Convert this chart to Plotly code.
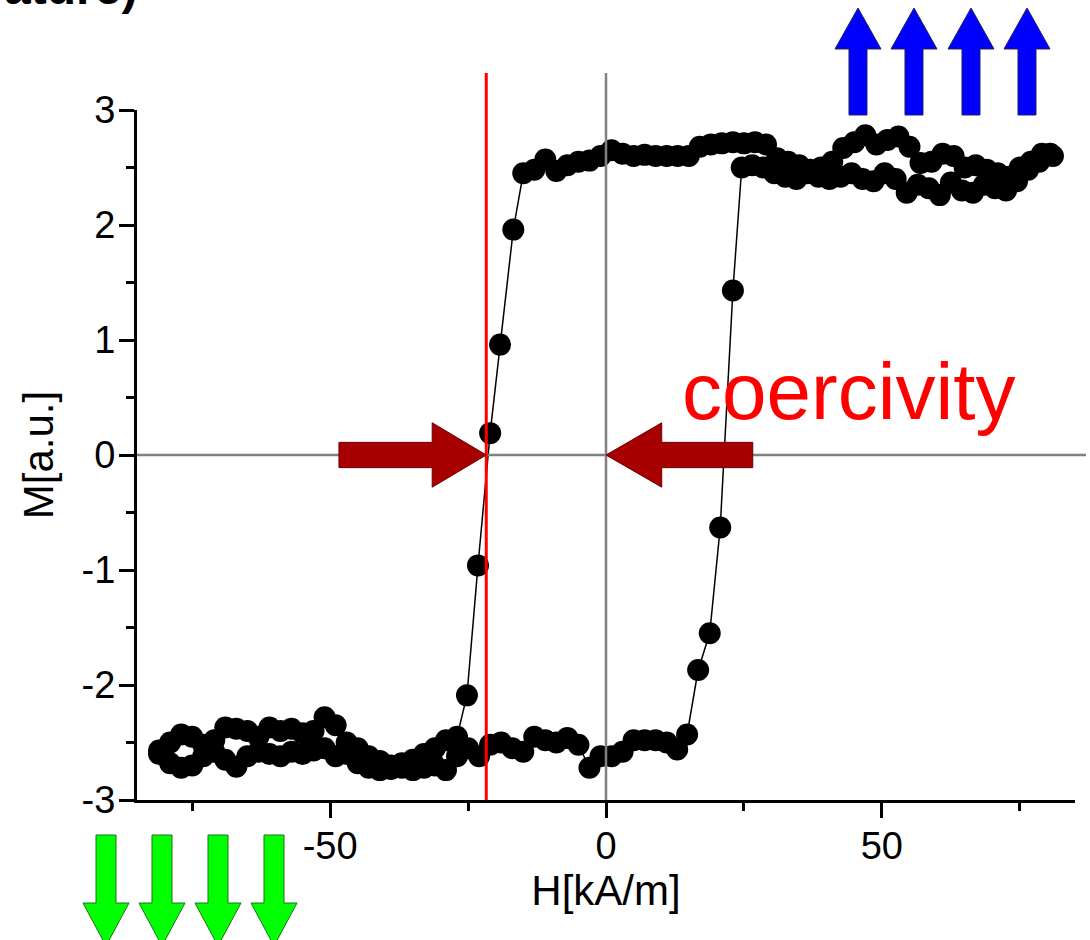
import plotly.graph_objects as go

# ---------------- data ----------------
# descending branch: field swept from +H to -H
h_down = [81, 79, 77, 75, 73, 71, 69, 67, 65, 63, 61, 59, 57, 55, 53, 51, 49, 47, 45, 43,
          41, 39, 37, 35, 33, 31, 29, 27, 25, 23, 21, 19, 17, 15, 13, 11, 9, 7, 5, 3,
          1, -1, -3, -5, -7, -9, -11, -13, -15, -16.8, -19.2, -21.0, -23.2, -25.2, -27,
          -29, -31, -33, -35, -37, -39, -41, -43, -45, -47, -49, -51, -53, -55, -57,
          -59, -61, -63, -65, -67, -69, -71, -73, -75, -77, -79, -81]
m_down = [2.60, 2.62, 2.55, 2.50, 2.42, 2.45, 2.48, 2.52, 2.50, 2.60, 2.62, 2.55, 2.54, 2.68,
          2.77, 2.74, 2.70, 2.78, 2.72, 2.67, 2.55, 2.50, 2.48, 2.52, 2.55, 2.58, 2.70, 2.72,
          2.71, 2.72, 2.71, 2.70, 2.68, 2.60, 2.60, 2.60, 2.60, 2.61, 2.60, 2.62, 2.65, 2.60,
          2.56, 2.55, 2.52, 2.47, 2.57, 2.48, 2.45, 1.96, 0.96, 0.19, -0.96, -2.09, -2.45,
          -2.48, -2.55, -2.60, -2.65, -2.68, -2.70, -2.66, -2.62, -2.55, -2.50, -2.35, -2.28,
          -2.40, -2.42, -2.38, -2.40, -2.37, -2.45, -2.40, -2.38, -2.37, -2.48, -2.52, -2.45,
          -2.43, -2.50, -2.57]

# ascending branch: field swept from -H back to +H
h_up = [-81, -79, -77, -75, -73, -71, -69, -67, -65, -63, -61, -59, -57, -55, -53, -51, -49,
        -47, -45, -43, -41, -39, -37, -35, -33, -31, -29, -27, -25, -23, -21, -19, -17, -15,
        -13, -11, -9, -7, -5, -3, -1, 1, 3, 5, 7, 9, 11, 12.9, 14.7, 16.7, 18.8, 20.7, 23.0,
        24.6, 26.5, 28.5, 30.5, 32.5, 34.5, 36.5, 38.5, 40.5, 42.5, 44.5, 46.5, 48.5, 50.5,
        52.5, 54.5, 56.5, 58.5, 60.5, 62.5, 64.5, 66.5, 68.5, 70.5, 72.5, 74.5, 76.5, 78.5, 80.5]
m_up = [-2.60, -2.68, -2.72, -2.70, -2.62, -2.58, -2.65, -2.71, -2.62, -2.58, -2.60, -2.62,
        -2.58, -2.60, -2.57, -2.55, -2.62, -2.60, -2.68, -2.72, -2.74, -2.73, -2.72, -2.74,
        -2.72, -2.70, -2.74, -2.62, -2.55, -2.62, -2.52, -2.50, -2.55, -2.58, -2.45, -2.48,
        -2.50, -2.46, -2.52, -2.72, -2.62, -2.62, -2.58, -2.48, -2.48, -2.48, -2.50, -2.56,
        -2.43, -1.87, -1.55, -0.63, 1.43, 2.50, 2.52, 2.50, 2.45, 2.42, 2.40, 2.45, 2.42,
        2.40, 2.42, 2.45, 2.40, 2.38, 2.45, 2.40, 2.28, 2.35, 2.32, 2.26, 2.37, 2.30, 2.28,
        2.35, 2.32, 2.30, 2.38, 2.48, 2.55, 2.62]

coercive_field = -21.7  # kA/m, where the descending branch crosses M = 0

x_tick_vals = [-50, 0, 50]
x_tick_text = ["-50", "0", "50"]
x_minor_vals = [-75, -25, 25, 75]
y_tick_vals = [-3, -2, -1, 0, 1, 2, 3]
y_tick_text = ["-3", "-2", "-1", "0", "1", "2", "3"]
y_minor_vals = [-2.5, -1.5, -0.5, 0.5, 1.5, 2.5]

# ---------------- layout geometry ----------------
W, H = 1090, 940
L, R, T, B = 137, 15, 110, 140
PW, PH = W - L - R, H - T - B
FONT = "Arial, Liberation Sans, sans-serif"


def px(x):
    return (x - L) / PW


def py(y):
    return (H - B - y) / PH


fig = go.Figure()
for hh, mm in ((h_down, m_down), (h_up, m_up)):
    fig.add_trace(go.Scatter(
        x=hh, y=mm, mode="lines+markers",
        line=dict(color="black", width=1.5),
        marker=dict(color="black", size=22, line=dict(width=0)),
        showlegend=False, hoverinfo="x+y"))

shapes = []
# gray axes through the origin
shapes.append(dict(type="line", xref="x", yref="paper", x0=0, x1=0, y0=0, y1=py(73),
                   line=dict(color="#808080", width=2.5)))
shapes.append(dict(type="line", xref="paper", yref="y", x0=0, x1=px(1086), y0=0, y1=0,
                   line=dict(color="#808080", width=2.5)))
# red coercivity line
shapes.append(dict(type="line", xref="x", yref="paper", x0=coercive_field, x1=coercive_field,
                   y0=0, y1=py(73), line=dict(color="#FF0000", width=3)))


def harrow(tip, base, tail, body, head):
    return (f"M{tail},{body} L{base},{body} L{base},{head} L{tip},0 "
            f"L{base},{-head} L{base},{-body} L{tail},{-body} Z")


shapes.append(dict(type="path", xref="x", yref="y",
                   path=harrow(coercive_field, coercive_field - 9.8, coercive_field - 26.7, 0.11, 0.28),
                   fillcolor="#A80000", line=dict(color="#6a0000", width=1)))
shapes.append(dict(type="path", xref="x", yref="y",
                   path=harrow(0, 10.1, 26.6, 0.11, 0.28),
                   fillcolor="#A80000", line=dict(color="#6a0000", width=1)))


def varrow(c, tip, base, tail, hw, sw):
    pts = [(c, tip), (c + hw, base), (c + sw, base), (c + sw, tail), (c - sw, tail),
           (c - sw, base), (c - hw, base)]
    return "M" + " L".join(f"{px(a):.5f},{py(b):.5f}" for a, b in pts) + " Z"


for c in (858, 914, 971, 1027):
    shapes.append(dict(type="path", xref="paper", yref="paper",
                       path=varrow(c, 8, 49, 115, 23, 9),
                       fillcolor="#0000FF", line=dict(color="#202060", width=1)))
for c in (106, 162, 218, 274):
    shapes.append(dict(type="path", xref="paper", yref="paper",
                       path=varrow(c, 946, 903, 835, 23, 10),
                       fillcolor="#00FF00", line=dict(color="#207020", width=1)))

annotations = [
    dict(text="coercivity", x=44.0, y=0.55, xref="x", yref="y", showarrow=False,
         xanchor="center", yanchor="middle",
         font=dict(family=FONT, size=80, color="#FF0000")),
    dict(text="ature)", x=px(139), y=py(16), xref="paper", yref="paper", showarrow=False,
         xanchor="right", yanchor="bottom",
         font=dict(family=FONT, size=48, color="black", weight="bold")),
]

axis_common = dict(showline=True, linecolor="black", linewidth=3, ticks="outside",
                   tickcolor="black", tickwidth=3, ticklen=15, showgrid=False,
                   zeroline=False, tickfont=dict(family=FONT, size=38, color="black"))

fig.update_layout(
    width=W, height=H,
    margin=dict(l=L, r=R, t=T, b=B),
    paper_bgcolor="white", plot_bgcolor="white",
    shapes=shapes, annotations=annotations,
    xaxis=dict(range=[-85, 85], tickmode="array", tickvals=x_tick_vals, ticktext=x_tick_text,
               ticklabelstandoff=-5,
               minor=dict(tickmode="array", tickvals=x_minor_vals, ticks="outside", ticklen=8,
                          tickwidth=3, tickcolor="black"),
               title=dict(text="H[kA/m]", font=dict(family=FONT, size=42, color="black"),
                          standoff=1),
               **axis_common),
    yaxis=dict(range=[-3, 3], tickmode="array", tickvals=y_tick_vals, ticktext=y_tick_text,
               ticklabelstandoff=-4,
               minor=dict(tickmode="array", tickvals=y_minor_vals, ticks="outside", ticklen=8,
                          tickwidth=3, tickcolor="black"),
               title=dict(text="M[a.u.]", font=dict(family=FONT, size=42, color="black"),
                          standoff=15),
               **axis_common),
)

fig.write_html("out.html", config={"displayModeBar": False},
               post_script="document.body.style.margin='0';")
